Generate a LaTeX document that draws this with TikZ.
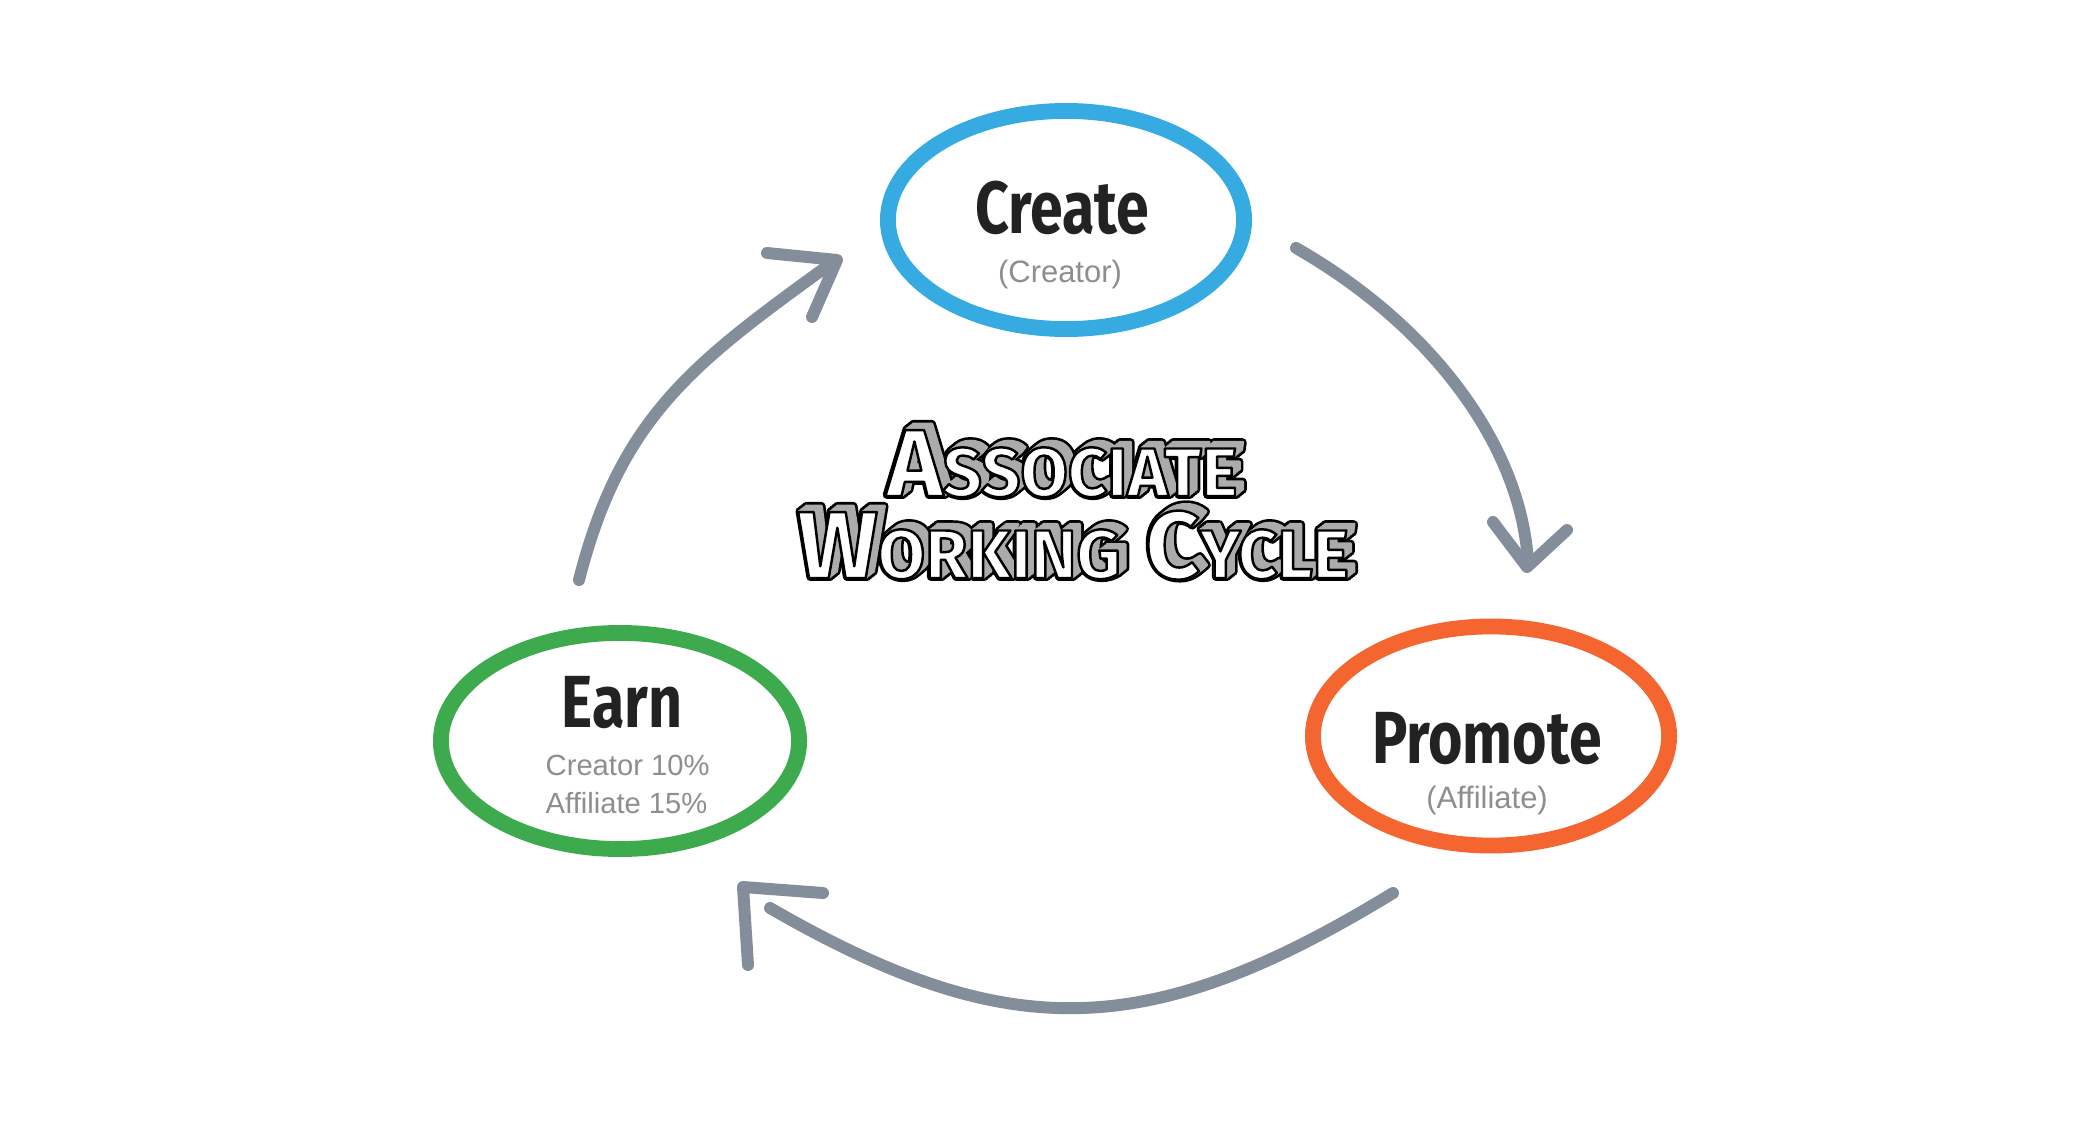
\documentclass[tikz,border=0pt]{standalone}
\usepackage{fontspec}
\setmainfont{Liberation Sans}
\newfontfamily\handfont[FakeStretch=0.8]{Fira Sans}
\newfontfamily\blockfont{Fira Sans}
\usetikzlibrary{shapes.geometric}

\definecolor{createblue}{HTML}{36ABE2}
\definecolor{earngreen}{HTML}{3DAA4E}
\definecolor{promoteorange}{HTML}{F4652F}
\definecolor{flowgray}{HTML}{848E9B}
\definecolor{inkblack}{HTML}{222222}
\definecolor{notegray}{HTML}{8E8E8E}
\definecolor{hatchgray}{HTML}{ABABAB}

% text rendering modes (stroke width in bp, round joins): outline only, fill+outline, back to plain
\newcommand\outlineon[1]{\special{pdf:literal direct #1 w 1 j 1 J 1 Tr}}
\newcommand\fatfillon[1]{\special{pdf:literal direct #1 w 1 j 1 J 2 Tr}}
\newcommand\outlineoff{\special{pdf:literal direct 0 Tr 0 j 0 J}}

% block lettering: large capital, smaller capitals after it
\newcommand\blockcap[1]{{\fontsize{27}{27}\selectfont #1}}
\newcommand\blocklow[1]{{\fontsize{19.5}{19.5}\selectfont #1}}
% extruded outline letters: black rim, grey depth, white face
\newcommand\blockword[1]{%
  \foreach \shift in {2.2,1.6,1.0,0.4}{%
    \rlap{\kern\shift pt\raisebox{0.8\dimexpr\shift pt\relax}{\color{black}\outlineon{2.3}#1\outlineoff}}}%
  \foreach \shift in {2.2,1.6,1.0,0.4}{%
    \rlap{\kern\shift pt\raisebox{0.8\dimexpr\shift pt\relax}{\color{hatchgray}\fatfillon{0.8}#1\outlineoff}}}%
  \rlap{\color{white}#1}%
  {\color{black}\outlineon{0.7}#1\outlineoff}}

\tikzset{
  ring/.style={ellipse, draw, line width=4.5pt, inner sep=0pt},
  headword/.style={font={\handfont\bfseries\fontsize{21}{21}\selectfont},
    text=inkblack, inner sep=0pt, anchor=base},
  subnote/.style={font={\fontsize{8.8}{10.8}\selectfont},
    text=notegray, inner sep=0pt, anchor=base},
  earnnote/.style={font={\fontsize{8.3}{10}\selectfont},
    text=notegray, inner sep=0pt, anchor=base west},
  titleline/.style={font={\blockfont\bfseries}, inner sep=0pt, anchor=base},
  flow/.style={draw=flowgray, line width=3.4pt, line cap=round, line join=round},
}

\begin{document}
\begin{tikzpicture}[x=0.01cm, y=-0.01cm]
\useasboundingbox (0,0) rectangle (2100,1124);
\fill[white] (0,0) rectangle (2100,1124);

% the three stages
\node[ring, draw=createblue, minimum width=3.56cm, minimum height=2.18cm] (create) at (1066,220) {};
\node[ring, draw=earngreen, minimum width=3.58cm, minimum height=2.16cm] (earn) at (620,741) {};
\node[ring, draw=promoteorange, minimum width=3.56cm, minimum height=2.19cm] (promote) at (1491,736) {};

\node[headword] (createword) at (1062,233) {Create};
\node[subnote] (createnote) at (1060,282) {(Creator)};

\node[headword] (earnword) at (622,727) {Earn};
\node[earnnote] (earnnoteA) at (545,775) {Creator 10\%};
\node[earnnote] (earnnoteB) at (545,813) {Affiliate 15\%};

\node[headword] (promoteword) at (1487,763) {Promote};
\node[subnote] (promotenote) at (1487,808) {(Affiliate)};

% create -> promote
\coordinate (cpS) at (1296,248);
\coordinate (cpE) at (1528,563);
\coordinate (cpL) at (1493,522);
\coordinate (cpT) at (1527,567);
\coordinate (cpR) at (1567,530);
\draw[flow] (cpS) .. controls (1436,328) and (1522,450) .. (cpE);
\draw[flow] (cpL) -- (cpT) -- (cpR);

% promote -> earn
\coordinate (peS) at (1393,893);
\coordinate (peE) at (770,908);
\coordinate (peR) at (823,893);
\coordinate (peT) at (743,887);
\coordinate (peD) at (748,965);
\draw[flow] (peS) .. controls (1146,1044) and (1006,1044) .. (peE);
\draw[flow] (peR) -- (peT) -- (peD);

% earn -> create
\coordinate (ecS) at (579,580);
\coordinate (ecE) at (833,262);
\coordinate (ecL) at (767,253);
\coordinate (ecT) at (837,260);
\coordinate (ecD) at (812,317);
\draw[flow] (ecS) .. controls (621,415) and (695,362) .. (ecE);
\draw[flow] (ecL) -- (ecT) -- (ecD);

% title in the middle of the cycle
\node[titleline] (titleA) at (1062,496) {\blockword{\blockcap{A}\blocklow{SSOCIATE}}};
\node[titleline] (titleB) at (1073,578) {\blockword{\blockcap{W}\blocklow{ORKING}\hspace{7pt}\blockcap{C}\blocklow{YCLE}}};
\end{tikzpicture}
\end{document}
